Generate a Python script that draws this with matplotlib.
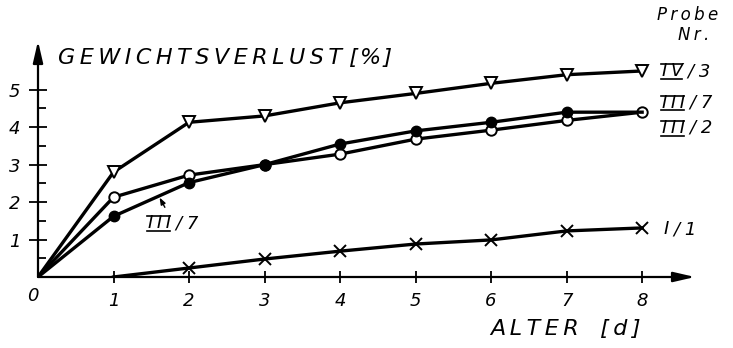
import matplotlib
matplotlib.use("Agg")
import matplotlib.pyplot as plt
from matplotlib.lines import Line2D

# age in days and weight loss in percent
days = [0, 1, 2, 3, 4, 5, 6, 7, 8]
iv_3 = [0, 2.8, 4.13, 4.3, 4.65, 4.9, 5.17, 5.4, 5.5]
iii_7 = [0, 1.62, 2.52, 3.0, 3.55, 3.9, 4.13, 4.4, 4.4]
iii_2 = [0, 2.13, 2.72, 3.0, 3.28, 3.68, 3.92, 4.18, 4.4]
days_i1 = [1, 2, 3, 4, 5, 6, 7, 8]
i_1 = [0, 0.24, 0.48, 0.69, 0.88, 0.99, 1.23, 1.31]

x_ticks = [1, 2, 3, 4, 5, 6, 7, 8]
y_ticks = [1, 2, 3, 4, 5]
y_minor = [0.5, 1.5, 2.5, 3.5, 4.5]

W, H = 733, 348
fig = plt.figure(figsize=(W / 100, H / 100), dpi=100)
ax = fig.add_axes([38 / W, 71 / H, 657 / W, 236 / H])
ax.set_xlim(0, 8.7)
ax.set_ylim(0, 6.3)
for s in ax.spines.values():
    s.set_visible(False)

font = dict(family="DejaVu Sans", style="italic", color="black")


def spaced(s, gap="\u2009"):
    return gap.join(s)


# axes drawn as arrows
arrow = dict(arrowstyle="-|>,head_length=1.3,head_width=0.3", color="black", lw=1.6,
             shrinkA=0, shrinkB=0)
ax.annotate("", xy=(8.7, 0), xytext=(0, 0), arrowprops=arrow, annotation_clip=False)
ax.annotate("", xy=(0, 6.3), xytext=(0, 0), arrowprops=arrow, annotation_clip=False)

lw = 2.4
ax.plot(days, iii_2, color="black", lw=lw, marker="o", ms=7.5, mfc="white", mec="black",
        mew=1.4, markevery=list(range(1, 9)), zorder=3)
ax.plot(days, iii_7, color="black", lw=lw, marker="o", ms=7.5, mfc="black", mec="black",
        markevery=list(range(1, 8)), zorder=4)
ax.plot(days, iv_3, color="black", lw=lw, marker="v", ms=9, mfc="white", mec="black",
        mew=1.4, markevery=list(range(1, 9)), zorder=3)
ax.plot(days_i1, i_1, color="black", lw=lw, marker="x", ms=8, mec="black",
        mew=1.4, markevery=list(range(1, 8)), zorder=3)

ax.set_xticks(x_ticks)
ax.set_yticks(y_ticks)
ax.set_yticks(y_minor, minor=True)
ax.tick_params(axis="x", direction="inout", length=8, width=1.3, pad=7, labelsize=13)
ax.tick_params(axis="y", which="major", direction="inout", length=13, width=1.3, pad=6,
               labelsize=13)
ax.tick_params(axis="y", which="minor", direction="in", length=6, width=1.3)
for lab in ax.get_xticklabels() + ax.get_yticklabels():
    lab.set_fontstyle("italic")

fig.text(33 / W, 1 - 296 / H, "0", ha="center", va="center", fontsize=13, **font)
fig.text(58 / W, 1 - 58 / H, spaced("GEWICHTSVERLUST") + " " + spaced("[%]", "\u200a"),
         ha="left", va="center", fontsize=16, **font)
fig.text(565 / W, 1 - 329 / H, spaced("ALTER") + "   " + spaced("[d]"), ha="center",
         va="center", fontsize=16, **font)
fig.text(688 / W, 1 - 15 / H, spaced("Probe"), ha="center", va="center", fontsize=12,
         **font)
fig.text(694 / W, 1 - 35 / H, spaced("Nr."), ha="center", va="center", fontsize=12,
         **font)

roman = []


def label(px, py, num, rest):
    t = fig.text(px / W, 1 - py / H, spaced(num), ha="left", va="center", fontsize=13,
                 **font)
    ax.annotate(rest, xy=(1, 0.5), xycoords=t, xytext=(3, 0), textcoords="offset points",
                ha="left", va="center", fontsize=13, annotation_clip=False, **font)
    if num != "I":
        roman.append(t)


label(662, 71, "IV", "/ 3")
label(662, 103, "III", "/ 7")
label(662, 128, "III", "/ 2")
label(664, 229, "I", "/ 1")

# inline label with pointer to the filled-circle curve
label(148, 223, "III", "/ 7")
ax.annotate("", xy=(1.61, 2.12), xytext=(1.68, 1.86),
            arrowprops=dict(arrowstyle="-|>,head_length=0.4,head_width=0.15",
                            color="black", lw=1.0, shrinkA=0, shrinkB=0))

# bars above and below the roman numerals
fig.canvas.draw()
r = fig.canvas.get_renderer()
for t in roman:
    bb = t.get_window_extent(r)
    for yy in (bb.y0 + 1.5, bb.y1 - 2.0):
        fig.add_artist(Line2D([bb.x0 - 1, bb.x1 - 1], [yy, yy], color="black",
                              lw=1.2, transform=None))

fig.savefig("out.png", dpi=100)
